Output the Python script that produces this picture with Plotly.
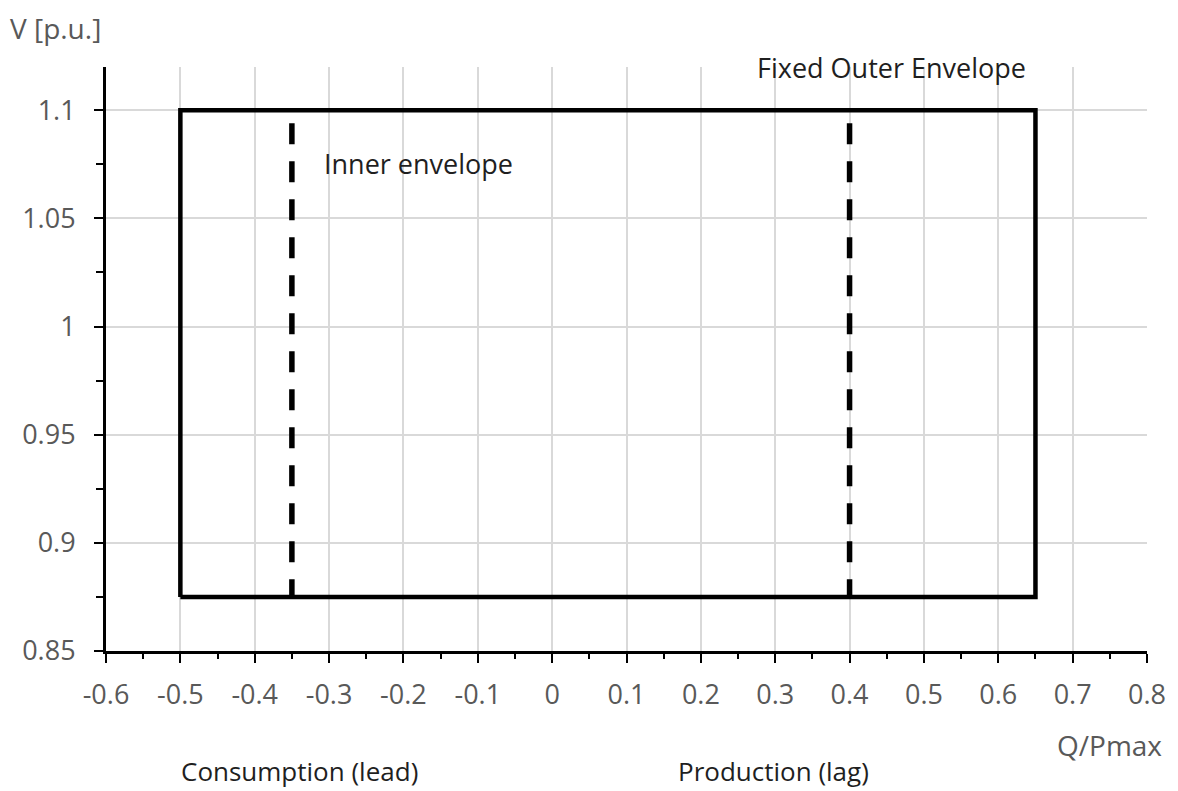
import plotly.graph_objects as go

# Outer envelope (rectangle corners)
outer_q = [-0.5, 0.65, 0.65, -0.5, -0.5]
outer_v = [0.875, 0.875, 1.1, 1.1, 0.875]

# Inner envelope (dashed vertical limits), drawn top to bottom
inner_left_q = [-0.35, -0.35]
inner_right_q = [0.4, 0.4]
inner_v = [1.094, 0.875]

x_ticks = [-0.6, -0.5, -0.4, -0.3, -0.2, -0.1, 0, 0.1, 0.2, 0.3, 0.4, 0.5, 0.6, 0.7, 0.8]
x_labels = ["-0.6", "-0.5", "-0.4", "-0.3", "-0.2", "-0.1", "0", "0.1", "0.2", "0.3", "0.4", "0.5", "0.6", "0.7", "0.8"]
y_ticks = [0.85, 0.9, 0.95, 1.0, 1.05, 1.1]
y_labels = ["0.85", "0.9", "0.95", "1", "1.05", "1.1"]

FONT = "Open Sans"
GRAY = "#595959"
DARK = "#1f1f1f"
FS = 27

fig = go.Figure()
fig.add_trace(go.Scatter(x=outer_q, y=outer_v, mode="lines",
                         line=dict(color="black", width=4.5), showlegend=False, hoverinfo="skip"))
for xs in (inner_left_q, inner_right_q):
    fig.add_trace(go.Scatter(x=xs, y=inner_v, mode="lines",
                             line=dict(color="black", width=5.5, dash="21px,17px"),
                             showlegend=False, hoverinfo="skip"))

# page body has an 8px margin, so the figure is offset by 8px
fig.update_layout(
    width=1170, height=783,
    margin=dict(l=98, r=23, t=59, b=140),
    plot_bgcolor="white", paper_bgcolor="white",
    font=dict(family=FONT, size=FS, color=GRAY),
    showlegend=False,
)
fig.update_xaxes(
    range=[-0.6, 0.8], tickmode="array", tickvals=x_ticks, ticktext=x_labels,
    ticks="outside", ticklen=9, tickwidth=2, tickcolor="black",
    showline=True, linecolor="black", linewidth=3,
    showgrid=True, gridcolor="#d9d9d9", gridwidth=1.5, zeroline=False,
    tickfont=dict(family=FONT, size=FS, color=GRAY), ticklabelstandoff=9,
    minor=dict(dtick=0.05, tick0=-0.6, ticks="outside", ticklen=5, tickwidth=2, tickcolor="black", showgrid=False),
)
fig.update_yaxes(
    range=[0.85, 1.12], tickmode="array", tickvals=y_ticks, ticktext=y_labels,
    ticks="outside", ticklen=9, tickwidth=2, tickcolor="black",
    showline=True, linecolor="black", linewidth=3,
    showgrid=True, gridcolor="#d9d9d9", gridwidth=1.5, zeroline=False,
    tickfont=dict(family=FONT, size=FS, color=GRAY), ticklabelstandoff=13,
    minor=dict(dtick=0.025, tick0=0.85, ticks="outside", ticklen=7, tickwidth=2, tickcolor="black", showgrid=False),
)

ann = [
    dict(text="Fixed Outer Envelope", x=0.457, y=1.12, xref="x", yref="y", color=DARK, xanchor="center", size=FS),
    dict(text="Inner envelope", x=-0.31, y=1.0753, xref="x", yref="y", color=DARK, xanchor="left", size=FS),
    dict(text="V [p.u.]", x=-0.094, y=1.067, xref="paper", yref="paper", color=GRAY, xanchor="left", size=28),
    dict(text="Q/Pmax", x=1.016, y=-0.161, xref="paper", yref="paper", color=GRAY, xanchor="right", size=28),
    dict(text="Consumption (lead)", x=0.1856, y=-0.205, xref="paper", yref="paper", color=DARK, xanchor="center", size=26),
    dict(text="Production (lag)", x=0.641, y=-0.205, xref="paper", yref="paper", color=DARK, xanchor="center", size=26),
]
for a in ann:
    fig.add_annotation(text=a["text"], x=a["x"], y=a["y"], xref=a["xref"], yref=a["yref"],
                       xanchor=a["xanchor"], yanchor="middle", showarrow=False,
                       font=dict(family=FONT, size=a["size"], color=a["color"]))

fig.write_html("out.html")
